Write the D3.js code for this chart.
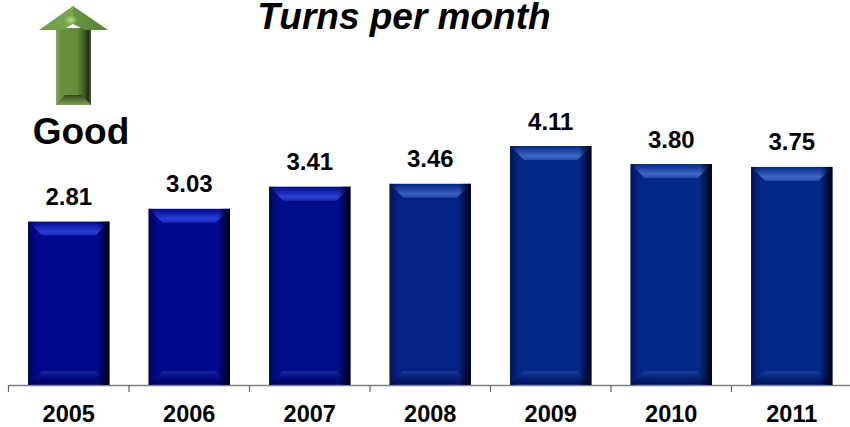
<!DOCTYPE html>
<html>
<head>
<meta charset="utf-8">
<script src="https://cdn.jsdelivr.net/npm/d3@7"></script>
<style>
  html, body { margin: 0; padding: 0; background: #fff; }
  svg { display: block; }
  text { font-family: "Liberation Sans", Arial, sans-serif; font-weight: bold; fill: #000; }
</style>
</head>
<body>
<svg width="850" height="427"></svg>
<script>
var years = ["2005", "2006", "2007", "2008", "2009", "2010", "2011"];
var turns = [2.81, 3.03, 3.41, 3.46, 4.11, 3.80, 3.75];

var svg = d3.select("svg");
var defs = svg.append("defs");

var baseY = 385;
var x = d3.scaleBand().domain(years).range([8.5, 852]).paddingInner(0.325).paddingOuter(0.1625);
var y = d3.scaleLinear().domain([0, 4.11]).range([baseY, 146]);

// the first three bars are a purer navy than the rest
var faceColor = d3.scaleOrdinal().domain(years)
    .range(["#00088c", "#00088c", "#000e8a", "#042284", "#042886", "#042886", "#042886"]);
var glowColor = d3.scaleOrdinal().domain(years)
    .range(["#2a3cd8", "#2a3cd8", "#2a40d0", "#3a60c0", "#3f68c4", "#3f68c4", "#3f68c4"]);

function grad(id, horizontal, stops) {
    var g = defs.append("linearGradient").attr("id", id)
        .attr("x1", 0).attr("x2", horizontal ? 1 : 0).attr("y1", 0).attr("y2", horizontal ? 0 : 1);
    stops.forEach(function(s) {
        g.append("stop").attr("offset", s[0]).attr("stop-color", s[1]).attr("stop-opacity", s[2] === undefined ? 1 : s[2]);
    });
}
grad("sideShade", true, [[0, "#000030", 0.6], [0.05, "#000030", 0.25], [0.11, "#000030", 0],
    [0.85, "#000010", 0], [0.93, "#000010", 0.55], [1, "#000008", 0.95]]);
grad("botBevel", false, [[0, "#6a88e0", 0.22], [0.55, "#000030", 0.2], [0.9, "#000030", 0.45], [1, "#5a70b0", 0.35]]);
years.forEach(function(d, i) {
    grad("topBevel" + i, false, [[0, glowColor(d), 0], [0.72, glowColor(d), 1], [1, glowColor(d), 0.55]]);
});

// axis line and the ticks between the bars
svg.append("line")
    .attr("x1", x.range()[0]).attr("x2", 850)
    .attr("y1", baseY + 0.5).attr("y2", baseY + 0.5)
    .style("stroke", "#808080").style("stroke-width", 1.5);

svg.selectAll("line.tick").data(years).enter().append("line")
    .attr("class", "tick")
    .attr("x1", function(d) { return x(d) - x.step() * 0.1625; })
    .attr("x2", function(d) { return x(d) - x.step() * 0.1625; })
    .attr("y1", baseY).attr("y2", baseY + 7)
    .style("stroke", "#666").style("stroke-width", 1.2);

var bar = svg.selectAll("g.bar").data(years).enter().append("g").attr("class", "bar");

bar.append("rect")
    .attr("x", function(d) { return x(d); })
    .attr("y", function(d, i) { return y(turns[i]); })
    .attr("width", x.bandwidth())
    .attr("height", function(d, i) { return baseY - y(turns[i]); })
    .style("fill", function(d) { return faceColor(d); });

var bevel = 14;
bar.append("path")
    .attr("d", function(d, i) {
        var l = x(d), r = l + x.bandwidth(), t = y(turns[i]);
        return "M" + l + "," + t + "L" + r + "," + t + "L" + (r - bevel) + "," + (t + bevel) + "L" + (l + bevel) + "," + (t + bevel) + "Z";
    })
    .style("fill", function(d, i) { return "url(#topBevel" + i + ")"; });

bar.append("path")
    .attr("d", function(d) {
        var l = x(d), r = l + x.bandwidth();
        return "M" + l + "," + baseY + "L" + r + "," + baseY + "L" + (r - bevel) + "," + (baseY - bevel) + "L" + (l + bevel) + "," + (baseY - bevel) + "Z";
    })
    .style("fill", "url(#botBevel)");

bar.append("rect")
    .attr("x", function(d) { return x(d); })
    .attr("y", function(d, i) { return y(turns[i]); })
    .attr("width", x.bandwidth())
    .attr("height", function(d, i) { return baseY - y(turns[i]); })
    .style("fill", "url(#sideShade)");

bar.append("text")
    .attr("x", function(d) { return x(d) + x.bandwidth() / 2; })
    .attr("y", function(d, i) { return y(turns[i]) - 16.5; })
    .attr("text-anchor", "middle")
    .style("font-size", "24px")
    .text(function(d, i) { return turns[i].toFixed(2); });

var xAxis = d3.axisBottom(x).tickSize(0).tickPadding(0);
var axisG = svg.append("g").attr("transform", "translate(0," + (baseY + 20) + ")").call(xAxis);
axisG.select(".domain").remove();
axisG.selectAll("text")
    .style("font-size", "23.5px")
    .style("font-family", "'Liberation Sans', Arial, sans-serif")
    .style("font-weight", "bold")
    .style("fill", "#000");

svg.append("text")
    .attr("x", 404).attr("y", 29)
    .attr("text-anchor", "middle")
    .style("font-size", "37px")
    .style("font-style", "italic")
    .text("Turns per month");

svg.append("text")
    .attr("x", 81).attr("y", 144)
    .attr("text-anchor", "middle")
    .style("font-size", "37px")
    .text("Good");

// green arrow
grad("arrowShaft", true, [[0, "#8aa86a"], [0.12, "#6a9140"], [0.6, "#648c3c"], [0.8, "#3f5e26"], [0.92, "#1f2f14"], [1, "#4a5f3a"]]);
grad("arrowLeft", true, [[0, "#6f9a48"], [1, "#7aa852"]]);
grad("arrowRight", true, [[0, "#6a9644"], [1, "#55803a"]]);
grad("arrowBase", false, [[0, "#33491f"], [0.5, "#557a34"], [1, "#7ba255"]]);

var glow = defs.append("radialGradient").attr("id", "arrowGlow");
glow.append("stop").attr("offset", 0).attr("stop-color", "#b4d890").attr("stop-opacity", 1);
glow.append("stop").attr("offset", 1).attr("stop-color", "#b4d890").attr("stop-opacity", 0);

var line = d3.line();
var arrow = svg.append("g");
arrow.append("path")
    .attr("d", line([[56, 28], [91, 28], [91, 105], [56, 105]]) + "Z")
    .style("fill", "url(#arrowShaft)");
arrow.append("path")
    .attr("d", line([[56, 105], [91, 105], [82, 95], [65, 95]]) + "Z")
    .style("fill", "url(#arrowBase)");
arrow.append("path")
    .attr("d", line([[73, 6], [73, 24], [62, 30], [39, 30]]) + "Z")
    .style("fill", "url(#arrowLeft)");
arrow.append("path")
    .attr("d", line([[73, 6], [108, 30], [85, 30], [73, 24]]) + "Z")
    .style("fill", "url(#arrowRight)");
arrow.append("ellipse")
    .attr("cx", 71).attr("cy", 20).attr("rx", 7).attr("ry", 5)
    .style("fill", "url(#arrowGlow)");
</script>
</body>
</html>
